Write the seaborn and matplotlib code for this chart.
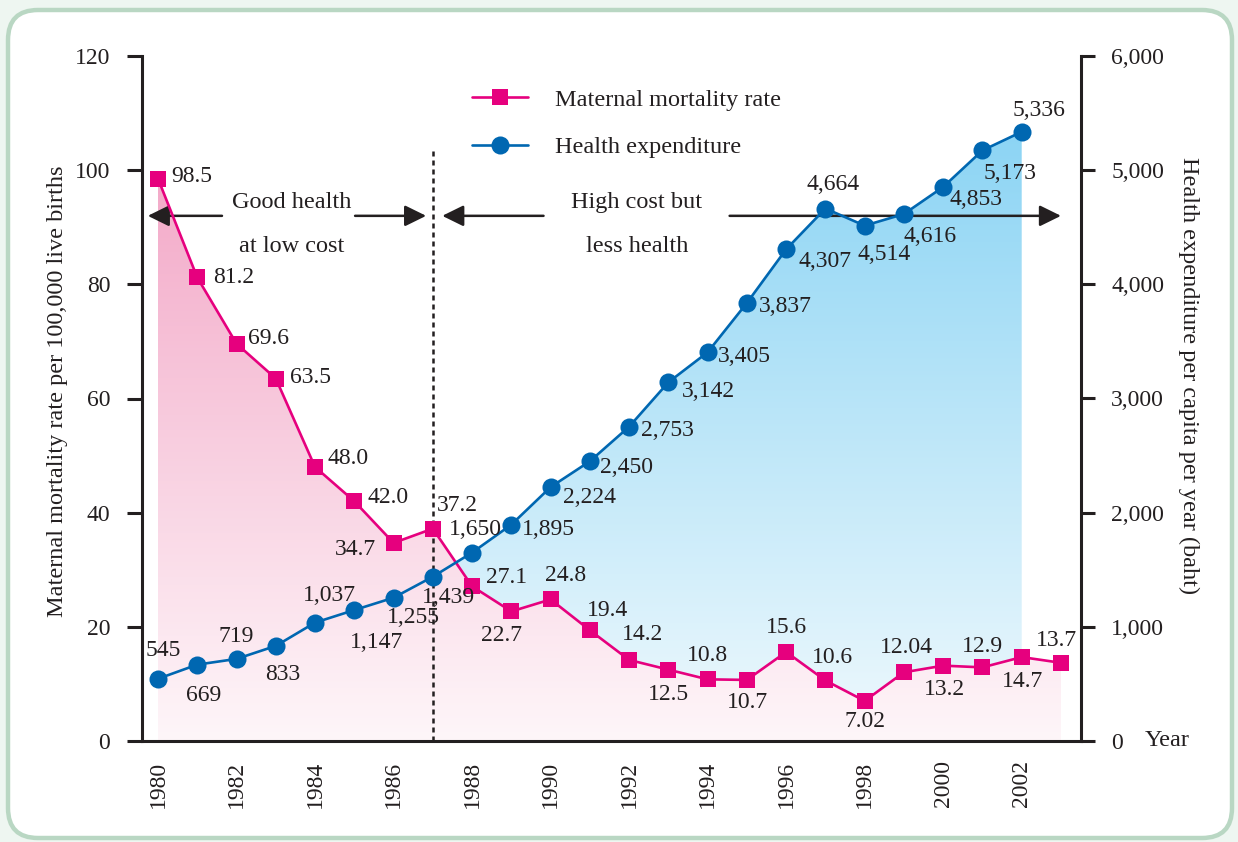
import numpy as np
import matplotlib
matplotlib.use("Agg")
import matplotlib.pyplot as plt
import seaborn as sns
from matplotlib.colors import to_rgb
from matplotlib.patches import FancyBboxPatch
from matplotlib.transforms import IdentityTransform

# ── Data ───────────────────────────────────────────────────────────────────────
years = list(range(1980, 2004))
mortality = [98.5, 81.2, 69.6, 63.5, 48.0, 42.0, 34.7, 37.2, 27.1, 22.7, 24.8, 19.4,
             14.2, 12.5, 10.8, 10.7, 15.6, 10.6, 7.02, 12.04, 13.2, 12.9, 14.7, 13.7]
mortality_text = ["98.5", "81.2", "69.6", "63.5", "48.0", "42.0", "34.7", "37.2", "27.1",
                  "22.7", "24.8", "19.4", "14.2", "12.5", "10.8", "10.7", "15.6", "10.6",
                  "7.02", "12.04", "13.2", "12.9", "14.7", "13.7"]
exp_years = list(range(1980, 2003))
expenditure = [545, 669, 719, 833, 1037, 1147, 1255, 1439, 1650, 1895, 2224, 2450, 2753,
               3142, 3405, 3837, 4307, 4664, 4514, 4616, 4853, 5173, 5336]
left_ticks = [0, 20, 40, 60, 80, 100, 120]
right_ticks = [0, 1000, 2000, 3000, 4000, 5000, 6000]

# label offsets (pixels, x right / y up)
mort_off = [(34, 2), (36, 0), (32, 5), (35, 1), (33, 9), (34, 4), (-38, -7), (25, 23),
            (34, 9), (-10, -24), (15, 24), (18, 20), (13, 25), (0, -25), (0, 24), (1, -23),
            (0, 24), (7, 23), (0, -21), (2, 25), (1, -24), (0, 21), (1, -24), (-4, 22)]
exp_off = [(5, 28), (6, -31), (0, 22), (7, -29), (14, 27), (22, -32), (20, -20), (16, -21),
           (3, 23), (37, -5), (39, -10), (37, -6), (38, -4), (40, -9), (37, -4), (38, -4),
           (39, -12), (8, 24), (19, -29), (26, -22), (33, -13), (28, -23), (17, 21)]

PINK = "#e6007e"
BLUE = "#0067b1"
INK = "#231f20"
FS = 17
FS_TXT = 17.5

sns.set_style("white")
plt.rcParams["font.family"] = ["Liberation Serif", "DejaVu Serif"]
plt.rcParams["text.color"] = INK
plt.rcParams["axes.labelcolor"] = INK
plt.rcParams["xtick.color"] = INK
plt.rcParams["ytick.color"] = INK

fig = plt.figure(figsize=(12.38, 8.42), dpi=100, facecolor="#eef6f1")
frame = FancyBboxPatch((8, 4), 1224, 828, boxstyle="round,pad=0,rounding_size=30",
                       transform=IdentityTransform(), facecolor="white",
                       edgecolor="#b9d7c3", lw=3.2, zorder=0)
fig.add_artist(frame)

ax = fig.add_axes([142.3 / 1238, 101 / 842, 938.3 / 1238, 685 / 842])
ax.set_facecolor("none")
ax2 = ax.twinx()

XL = (1979.6, 2003.5)
ax.set_xlim(*XL)
ax.set_ylim(0, 120)
ax2.set_ylim(0, 6000)

# ── gradient fills ─────────────────────────────────────────────────────────────
def vgrad(c_bottom, c_top, top_val):
    ys = np.linspace(0, 120, 256)
    t = np.clip(ys / top_val, 0, 1)[:, None]
    a, b = np.array(to_rgb(c_bottom)), np.array(to_rgb(c_top))
    return (a + (b - a) * t)[:, None, :]

poly_b = ax2.fill_between(exp_years[7:], expenditure[7:], 0, facecolor="none", edgecolor="none")
im_b = ax.imshow(vgrad("#eff9fd", "#8bd4f4", 108), extent=(*XL, 0, 120), origin="lower",
                 aspect="auto", interpolation="bilinear", zorder=0.5)
im_b.set_clip_path(poly_b.get_paths()[0], poly_b.get_transform())

poly_p = ax.fill_between(years, mortality, 0, facecolor="none", edgecolor="none")
im_p = ax.imshow(vgrad("#fef6f9", "#f3a9c8", 100), extent=(*XL, 0, 120), origin="lower",
                 aspect="auto", interpolation="bilinear", zorder=0.6)
im_p.set_clip_path(poly_p.get_paths()[0], poly_p.get_transform())
ax.set_xlim(*XL)
ax.set_ylim(0, 120)

# ── lines ──────────────────────────────────────────────────────────────────────
sns.lineplot(x=years, y=mortality, ax=ax, color=PINK, lw=1.9, marker="s", markersize=12.2,
             markeredgewidth=0, zorder=3)
sns.lineplot(x=exp_years, y=expenditure, ax=ax2, color=BLUE, lw=1.9, marker="o",
             markersize=13, markeredgewidth=0, zorder=3)
line_p = ax.lines[-1]
line_b = ax2.lines[-1]

for x, y, s, (dx, dy) in zip(years, mortality, mortality_text, mort_off):
    ax.annotate(s, (x, y), xytext=(dx, dy), textcoords="offset pixels",
                ha="center", va="center", fontsize=FS, zorder=4)
for x, y, (dx, dy) in zip(exp_years, expenditure, exp_off):
    ax2.annotate(f"{y:,}", (x, y), xytext=(dx, dy), textcoords="offset pixels",
                 ha="center", va="center", fontsize=FS, zorder=4)

# ── dividing line, arrows, region text ─────────────────────────────────────────
ax.plot([1987, 1987], [0, 104], color=INK, lw=1.8, ls=(0, (2, 1.6)), zorder=2)
arrow_kw = dict(arrowstyle="-|>,head_length=0.65,head_width=0.32", lw=1.8, color=INK,
                shrinkA=0, shrinkB=0, mutation_scale=20)
for start, tip in [(1981.63, 1979.74), (1985.02, 1986.83), (1989.82, 1987.24), (1994.56, 2003.0)]:
    ax.annotate("", xy=(tip, 92), xytext=(start, 92), arrowprops=arrow_kw, zorder=2)
ax.text(1983.4, 94.4, "Good health", ha="center", va="center", fontsize=FS_TXT)
ax.text(1983.4, 86.7, "at low cost", ha="center", va="center", fontsize=FS_TXT)
ax.text(1992.2, 94.4, "High cost but", ha="center", va="center", fontsize=FS_TXT)
ax.text(1992.2, 86.7, "less health", ha="center", va="center", fontsize=FS_TXT)

# ── axes styling ───────────────────────────────────────────────────────────────
for a in (ax, ax2):
    for sp in a.spines.values():
        sp.set_linewidth(2.2)
        sp.set_color(INK)
    a.spines["top"].set_visible(False)
ax.spines["right"].set_visible(False)
ax2.spines["left"].set_visible(False)
ax2.spines["bottom"].set_visible(False)

xt = np.arange(1980, 2003.51, 0.5)
ax.set_xticks(xt)
ax.set_xticklabels([str(int(v)) if v % 2 == 0 else "" for v in xt], rotation=90, fontsize=FS)
ax.tick_params(axis="x", direction="inout", length=14, width=2.2, pad=7)
ax.set_yticks(left_ticks)
ax.set_yticklabels([str(v) for v in left_ticks], fontsize=FS)
ax.tick_params(axis="y", direction="out", length=11, width=2.2, pad=12)
ax2.set_yticks(right_ticks)
ax2.set_yticklabels([f"{v:,}" for v in right_ticks], fontsize=FS)
ax2.tick_params(axis="y", direction="out", length=10, width=2.2, pad=12)

ax.set_xlabel("")
ax.set_ylabel("Maternal mortality rate per 100,000 live births", fontsize=FS_TXT)
ax.yaxis.set_label_coords(-0.079, 0.51)
ax2.set_ylabel("Health expenditure per capita per year (baht)", fontsize=FS_TXT,
               rotation=270, va="bottom")
ax2.yaxis.set_label_coords(1.104, 0.534)
ax.text(1.0686, 0.0, "Year", transform=ax.transAxes, ha="left", va="center", fontsize=FS_TXT)

if ax.get_legend():
    ax.get_legend().remove()
if ax2.get_legend():
    ax2.get_legend().remove()
ax2.legend([line_p, line_b], ["Maternal mortality rate", "Health expenditure"],
           loc="upper left", bbox_to_anchor=(0.3514, 0.952), frameon=False, fontsize=FS_TXT,
           handlelength=2.3, handletextpad=1.1, labelspacing=1.05, borderpad=0,
           borderaxespad=0)

fig.savefig("out.png", dpi=100, facecolor=fig.get_facecolor())
